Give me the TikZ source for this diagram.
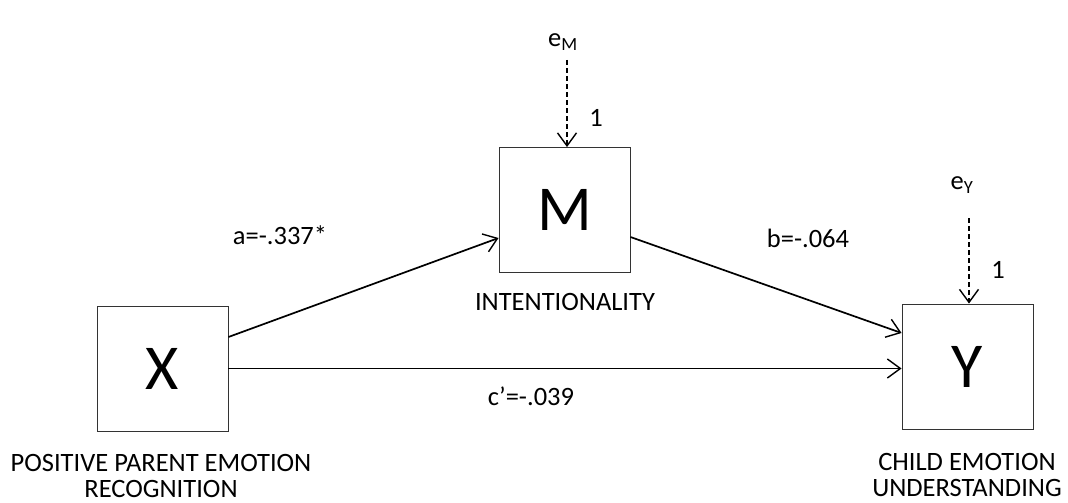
\documentclass[tikz,border=0pt]{standalone}
\usepackage{fontspec}
\setmainfont{Carlito}
\usetikzlibrary{arrows.meta}
\tikzset{
  varbox/.style={draw=black!80, line width=0.9pt, minimum width=131pt, minimum height=125pt, inner sep=0pt, font=\fontsize{64}{64}\selectfont},
  lbl/.style={font=\fontsize{26.5}{25.5}\selectfont, align=center, inner sep=0pt},
  path/.style={line width=1.7pt, -{Straight Barb[length=13pt,width=19pt,line width=1.4pt]}},
  err/.style={line width=1.4pt, dash pattern=on 5pt off 3pt, -{Straight Barb[length=13pt,width=19pt,line width=1.4pt]}}
}
\begin{document}
\begin{tikzpicture}[x=1pt,y=-1pt]
\useasboundingbox (0,0) rectangle (1068,503);
\node[varbox] (X) at (162.5,368.5) {X};
\node[varbox] (M) at (564.5,210) {M};
\node[varbox] (Y) at (967.5,366.5) {Y};
\node[lbl] (xl) at (161,476) {POSITIVE PARENT EMOTION\\RECOGNITION};
\node[lbl] (ml) at (565,302) {INTENTIONALITY};
\node[lbl] (yl) at (967,475) {CHILD EMOTION\\UNDERSTANDING};
\node[lbl] (eM) at (563,42) {e\textsubscript{M}};
\node[lbl] (eY) at (962,185) {e\textsubscript{Y}};
\coordinate (eMs) at (567,60);
\coordinate (eYs) at (969,218);
\node[lbl] (oneM) at (596,118) {1};
\node[lbl] (oneY) at (998,270) {1};
\node[lbl] (la) at (280,235) {a=-.337*};
\node[lbl] (lb) at (808,238) {b=-.064};
\node[lbl] (lc) at (531,396) {c’=-.039};
\draw[path] ([yshift=31.5pt]X.east) -- ([yshift=-28pt]M.west);
\draw[path] ([yshift=-27pt]M.east) -- ([yshift=33.5pt]Y.west);
\draw[path] (X.east) -- (X.east -| Y.west);
\draw[err] (eMs) -- (eMs |- M.north);
\draw[err] (eYs) -- (eYs |- Y.north);
\end{tikzpicture}
\end{document}
